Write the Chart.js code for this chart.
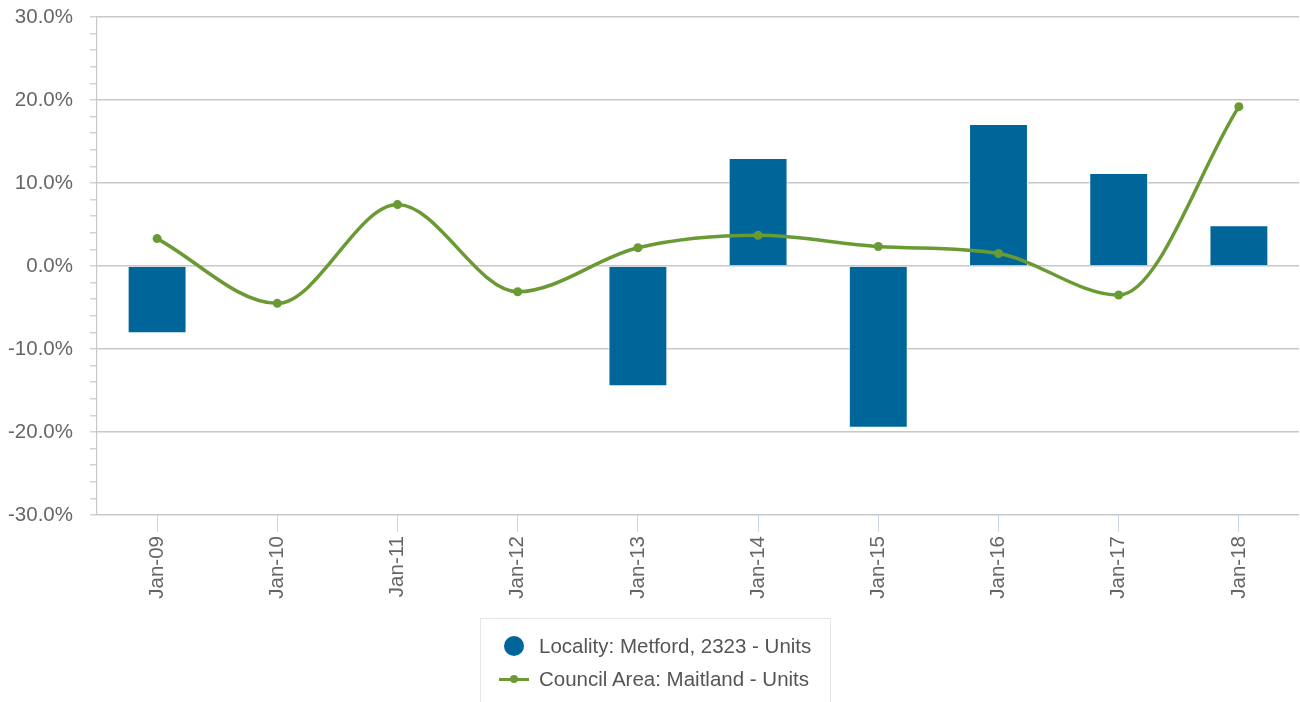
<!DOCTYPE html>
<html>
<head>
<meta charset="utf-8">
<script src="https://cdn.jsdelivr.net/npm/chart.js@4.4.1/dist/chart.umd.min.js"></script>
<style>
  html, body { margin: 0; padding: 0; background: #fff; }
  #wrap { position: relative; width: 1300px; height: 702px; overflow: hidden; }
  #c { position: absolute; left: 0; top: 0; }
  #legend {
    position: absolute; left: 480px; top: 618px; width: 351px; height: 100px;
    border: 1px solid #e6e6e6; box-sizing: border-box;
    font-family: 'Liberation Sans', Arial, sans-serif; font-size: 20.5px; color: #555;
  }
  .row { position: absolute; left: 0; height: 24px; line-height: 24px; white-space: nowrap; }
  .row span.t { position: absolute; left: 58px; top: 0; }
  .dot { position: absolute; left: 23px; top: 2px; width: 20px; height: 20px; border-radius: 50%; }
  .ln { position: absolute; left: 18px; top: 10.5px; width: 30px; height: 3px; }
  .ln i { position: absolute; left: 11px; top: -2.5px; width: 8px; height: 8px; border-radius: 50%; }
</style>
</head>
<body>
<div id="wrap">
  <canvas id="c" width="1300" height="702"></canvas>
  <div id="legend"></div>
</div>
<script>
const categories = ['Jan-09','Jan-10','Jan-11','Jan-12','Jan-13','Jan-14','Jan-15','Jan-16','Jan-17','Jan-18'];
const localityValues = [-8.1, null, null, null, -14.5, 13.0, -19.5, 17.1, 11.2, 4.9];
const councilValues = [3.3, -4.5, 7.4, -3.1, 2.2, 3.7, 2.35, 1.5, -3.5, 19.2];
const seriesNames = ['Locality: Metford, 2323 - Units', 'Council Area: Maitland - Units'];
const seriesColors = ['#006699', '#6a9a34'];
const yMin = -30, yMax = 30, yMajorStep = 10, yMinorStep = 2;

Chart.defaults.font.family = "'Liberation Sans', Arial, sans-serif";
Chart.defaults.color = '#666';

const chart = new Chart(document.getElementById('c'), {
  data: {
    labels: categories,
    datasets: [
      {
        type: 'line',
        label: seriesNames[1],
        data: councilValues,
        borderColor: seriesColors[1],
        backgroundColor: seriesColors[1],
        borderWidth: 3.5,
        pointRadius: 4.5,
        pointHoverRadius: 4.5,
        pointBorderWidth: 0,
        pointBackgroundColor: seriesColors[1],
        cubicInterpolationMode: 'monotone',
        fill: false,
        clip: false,
        order: 0
      },
      {
        type: 'bar',
        label: seriesNames[0],
        data: localityValues,
        backgroundColor: seriesColors[0],
        borderColor: '#ffffff',
        borderWidth: 1,
        barPercentage: 0.49,
        categoryPercentage: 1.0,
        order: 1
      }
    ]
  },
  options: {
    responsive: false,
    animation: false,
    devicePixelRatio: 1,
    layout: { autoPadding: false, padding: { top: 17, right: 1, bottom: 0, left: 0 } },
    plugins: {
      legend: { display: false },
      tooltip: { enabled: false }
    },
    scales: {
      x: {
        offset: true,
        grid: {
          offset: false,
          drawOnChartArea: false,
          drawTicks: true,
          tickLength: 17,
          tickColor: '#ccd6eb',
          tickWidth: 1
        },
        border: { display: false },
        ticks: {
          minRotation: 90,
          maxRotation: 90,
          padding: 4,
          color: '#666',
          font: { size: 20.5 },
          autoSkip: false
        },
        afterFit: (scale) => {
          scale.height = 702 - 515;
          scale.paddingLeft = 0;
          scale.paddingRight = 0;
        }
      },
      y: {
        min: yMin,
        max: yMax,
        grid: {
          color: (ctx) => (ctx.tick && ctx.tick.value % yMajorStep === 0) ? '#c8c8c8' : 'rgba(0,0,0,0)',
          lineWidth: 1.6,
          tickColor: '#c8c8c8',
          tickLength: 7,
          tickWidth: 1.2
        },
        border: { display: true, color: '#c8c8c8', width: 1.2 },
        ticks: {
          stepSize: yMinorStep,
          autoSkip: false,
          padding: 17,
          color: '#666',
          font: { size: 20.5 },
          callback: (v) => (v % yMajorStep === 0) ? v.toFixed(1) + '%' : ''
        },
        afterFit: (scale) => {
          scale.width = 97;
          scale.paddingTop = 0;
          scale.paddingBottom = 0;
        }
      }
    }
  }
});

// Legend (HTML) built from the series names/colours
const lg = document.getElementById('legend');
lg.innerHTML =
  '<div class="row" style="top:15px"><span class="dot" style="background:' + seriesColors[0] + '"></span><span class="t">' + seriesNames[0] + '</span></div>' +
  '<div class="row" style="top:48px"><span class="ln" style="background:' + seriesColors[1] + '"><i style="background:' + seriesColors[1] + '"></i></span><span class="t">' + seriesNames[1] + '</span></div>';
</script>
</body>
</html>
